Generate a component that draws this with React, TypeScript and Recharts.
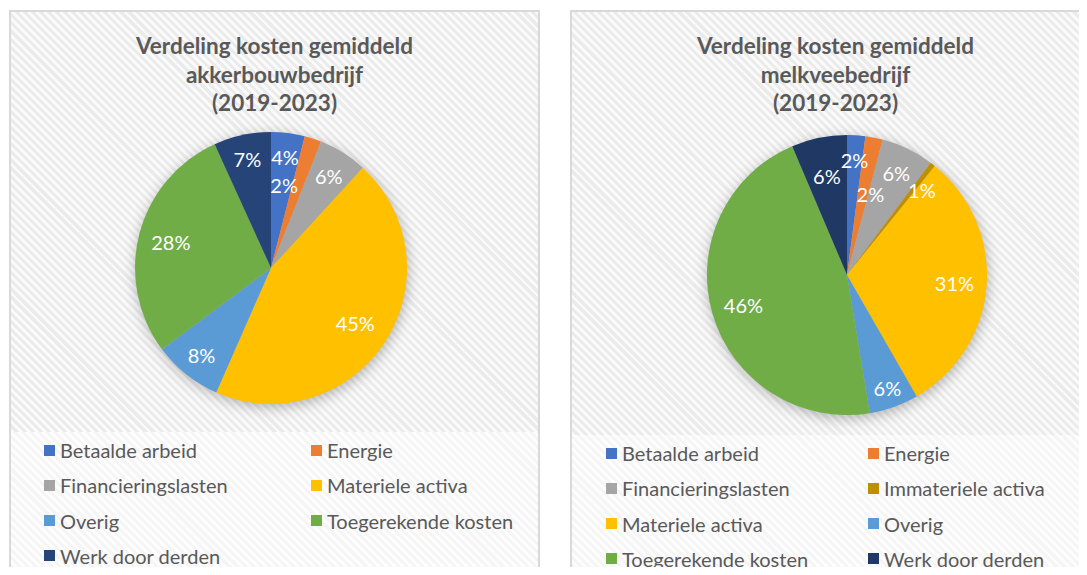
import { PieChart, Pie, Cell } from "recharts"

// akkerbouw (left)
const akkerNames = [
  "Betaalde arbeid",
  "Energie",
  "Financieringslasten",
  "Materiele activa",
  "Overig",
  "Toegerekende kosten",
  "Werk door derden",
]
const akkerValues = [4.0, 2.0, 5.8, 44.8, 8.2, 28.4, 6.8]

// melkvee (right)
const melkNames = [
  "Betaalde arbeid",
  "Energie",
  "Financieringslasten",
  "Immateriele activa",
  "Materiele activa",
  "Overig",
  "Toegerekende kosten",
  "Werk door derden",
]
const melkValues = [2.1, 2.0, 6.1, 0.6, 30.9, 5.7, 46.2, 6.4]

const colors: Record<string, string> = {
  "Betaalde arbeid": "#4472C4",
  Energie: "#ED7D31",
  Financieringslasten: "#A5A5A5",
  "Immateriele activa": "#BF8F00",
  "Materiele activa": "#FFC000",
  Overig: "#5B9BD5",
  "Toegerekende kosten": "#70AD47",
  "Werk door derden": "#264478",
}

// label placement: fraction of radius + angle shift (deg, clockwise)
const akkerLabelPos = [
  { r: 0.82, shift: 0 },
  { r: 0.62, shift: -9 },
  { r: 0.8, shift: 0 },
  { r: 0.74, shift: 0 },
  { r: 0.82, shift: 0 },
  { r: 0.76, shift: 0 },
  { r: 0.82, shift: 0 },
]
const melkLabelPos = [
  { r: 0.82, shift: 0 },
  { r: 0.6, shift: 5 },
  { r: 0.81, shift: 0 },
  { r: 0.81, shift: 3.5 },
  { r: 0.77, shift: 0 },
  { r: 0.86, shift: 0 },
  { r: 0.77, shift: 0 },
  { r: 0.72, shift: 0 },
]

const RAD = Math.PI / 180
const FONT = "Lato, 'Open Sans', sans-serif"
const TEXT = "#595959"

function makeLabel(pos: { r: number; shift: number }[]) {
  return (p: any) => {
    const { cx, cy, midAngle, outerRadius, percent, index } = p
    const pl = pos[index] || { r: 0.78, shift: 0 }
    const a = (midAngle - pl.shift) * RAD
    const r = outerRadius * pl.r
    return (
      <text
        x={cx + r * Math.cos(a)}
        y={cy - r * Math.sin(a)}
        fill="#fff"
        textAnchor="middle"
        dominantBaseline="central"
        fontSize={20}
        fontFamily={FONT}
      >
        {Math.round(percent * 100)}%
      </text>
    )
  }
}

type PanelProps = {
  left: number
  title: string[]
  names: string[]
  values: number[]
  labelPos: { r: number; shift: number }[]
  cx: number
  cy: number
  radius: number
  plotH: number
  legendTop: number
  col1: number
  col2: number
  werkColor?: string
}

function Panel(props: PanelProps) {
  const { left, title, names, values, labelPos, cx, cy, radius, plotH, legendTop, col1, col2 } = props
  const data = names.map((n, i) => ({ name: n, value: values[i] }))
  const colorOf = (n: string) => (n === "Werk door derden" && props.werkColor ? props.werkColor : colors[n])
  const W = 531
  const m = { top: 0, right: 0, bottom: 0, left: 0 }

  return (
    <div
      style={{
        position: "absolute",
        left,
        top: 10,
        width: W,
        height: 600,
        background: "repeating-linear-gradient(45deg, #fdfdfd 0px, #fdfdfd 2.8px, #f5f5f5 2.8px, #f5f5f5 5.7px)",
        boxShadow: "inset 0 0 0 2px #d9d9d9",
      }}
    >
      <div
        style={{
          position: "absolute",
          left: 2,
          top: 2,
          width: W - 4,
          height: plotH - 2,
          background: "repeating-linear-gradient(45deg, #fafafa 0px, #fafafa 2.8px, #ebebeb 2.8px, #ebebeb 5.7px)",
        }}
      />
      <div
        style={{
          position: "absolute",
          left: 0,
          top: 22,
          width: W,
          textAlign: "center",
          fontFamily: FONT,
          fontWeight: 700,
          fontSize: 22.5,
          lineHeight: "28.5px",
          color: TEXT,
        }}
      >
        {title.map((t) => (
          <div key={t}>{t}</div>
        ))}
      </div>
      <div style={{ position: "absolute", left: 0, top: 0 }}>
        <PieChart width={W} height={plotH} margin={m}>
          <Pie
            data={data}
            dataKey="value"
            nameKey="name"
            cx={cx + 1}
            cy={cy + 3}
            outerRadius={radius}
            startAngle={90}
            endAngle={-270}
            className="pie-shadow"
            stroke="none"
            isAnimationActive={false}
          >
            {data.map((d) => (
              <Cell key={d.name} fill="#000" fillOpacity={0.28} />
            ))}
          </Pie>
          <Pie
            data={data}
            dataKey="value"
            nameKey="name"
            cx={cx}
            cy={cy}
            outerRadius={radius}
            startAngle={90}
            endAngle={-270}
            stroke="none"
            labelLine={false}
            label={makeLabel(labelPos)}
            isAnimationActive={false}
          >
            {data.map((d) => (
              <Cell key={d.name} fill={colorOf(d.name)} />
            ))}
          </Pie>
        </PieChart>
      </div>
      {names.map((n, i) => {
        const row = Math.floor(i / 2)
        const x = i % 2 === 0 ? col1 : col2
        const y = legendTop + row * 35.3
        return (
          <div
            key={n}
            style={{
              position: "absolute",
              left: x,
              top: y - 13,
              height: 26,
              display: "flex",
              alignItems: "center",
              fontFamily: FONT,
              fontSize: 20,
              color: TEXT,
              whiteSpace: "nowrap",
            }}
          >
            <span style={{ display: "inline-block", width: 11, height: 11, background: colorOf(n), marginRight: 5 }} />
            {n}
          </div>
        )
      })}
    </div>
  )
}

export default function App() {
  return (
    <div style={{ position: "relative", width: 1087, height: 575, margin: -8, overflow: "hidden", background: "#fff" }}>
      <style>{`.pie-shadow { filter: blur(5px); }`}</style>
      <Panel
        left={9}
        title={["Verdeling kosten gemiddeld", "akkerbouwbedrijf", "(2019-2023)"]}
        names={akkerNames}
        values={akkerValues}
        labelPos={akkerLabelPos}
        cx={262}
        cy={258}
        radius={136}
        plotH={422}
        legendTop={440}
        col1={35}
        col2={302}
      />
      <Panel
        left={570}
        title={["Verdeling kosten gemiddeld", "melkveebedrijf", "(2019-2023)"]}
        names={melkNames}
        values={melkValues}
        labelPos={melkLabelPos}
        cx={277}
        cy={265}
        radius={140}
        plotH={425}
        legendTop={443}
        col1={36}
        col2={298}
        werkColor="#203864"
      />
    </div>
  )
}
